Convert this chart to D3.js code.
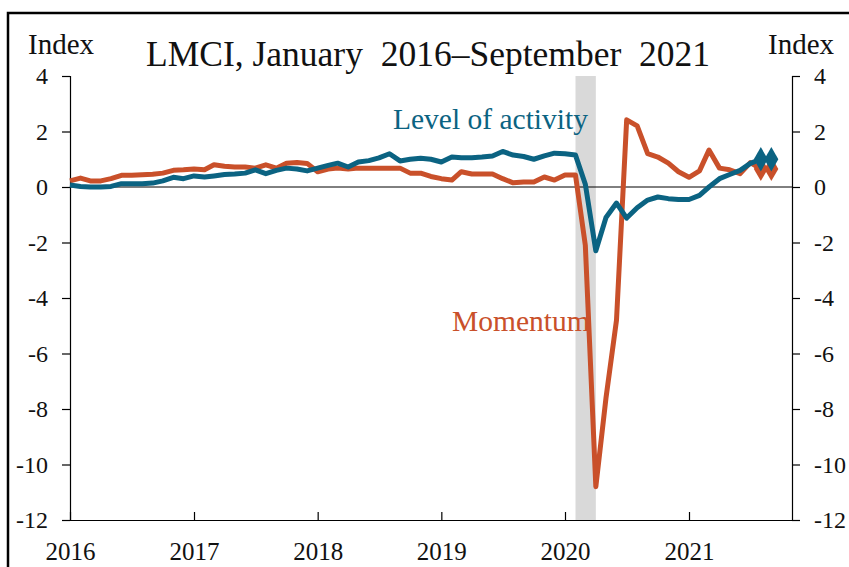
<!DOCTYPE html>
<html>
<head>
<meta charset="utf-8">
<script src="https://cdn.jsdelivr.net/npm/d3@7"></script>
<style>
body { margin: 0; background: #fff; }
svg text { font-family: "Liberation Serif", "Times New Roman", serif; }
</style>
</head>
<body>
<script>
// months Jan 2016 .. Sep 2021
var months = d3.timeMonth.range(new Date(2016, 0, 1), new Date(2021, 9, 1));
var levelValues = [
  0.07, 0.02, 0.0, 0.0, 0.02, 0.12, 0.12, 0.12, 0.14, 0.22, 0.35, 0.3,
  0.4, 0.36, 0.4, 0.45, 0.47, 0.5, 0.62, 0.48, 0.6, 0.68, 0.65, 0.58,
  0.68, 0.78, 0.86, 0.72, 0.9, 0.95, 1.05, 1.2, 0.94, 1.0, 1.04, 1.0,
  0.9, 1.08, 1.05, 1.05, 1.08, 1.12, 1.28, 1.15, 1.1, 1.0, 1.12, 1.22,
  1.2, 1.15, 0.1, -2.3, -1.1, -0.58, -1.12, -0.75, -0.47, -0.36, -0.42, -0.45,
  -0.45, -0.3, 0.0, 0.3, 0.45, 0.6, 0.85, 1.0, 1.0
];
var momentumValues = [
  0.22, 0.32, 0.22, 0.22, 0.3, 0.42, 0.42, 0.44, 0.46, 0.5, 0.6, 0.62,
  0.65, 0.62, 0.8, 0.75, 0.72, 0.72, 0.68, 0.8, 0.68, 0.86, 0.88, 0.85,
  0.55, 0.65, 0.68, 0.65, 0.68, 0.68, 0.68, 0.68, 0.68, 0.5, 0.5, 0.38,
  0.3, 0.25, 0.55, 0.47, 0.47, 0.47, 0.3, 0.15, 0.18, 0.18, 0.36, 0.25,
  0.43, 0.43, -2.1, -10.8, -7.6, -4.8, 2.42, 2.2, 1.2, 1.08, 0.86, 0.55,
  0.35, 0.58, 1.33, 0.68, 0.62, 0.48, 0.88, 0.65, 0.65
];
var yTicks = [4, 2, 0, -2, -4, -6, -8, -10, -12];
var yearTicks = [2016, 2017, 2018, 2019, 2020, 2021];
var recession = [new Date(2020, 1, 1), new Date(2020, 3, 1)];
var markerCount = 2; // latest months shown as diamonds

var blue = "#0b6382", red = "#c9502a";
var serif = '"Liberation Serif", "Times New Roman", serif';

var svg = d3.select("body").append("svg")
  .attr("width", 849).attr("height", 567);

var x = d3.scaleTime()
  .domain([new Date(2016, 0, 1), new Date(2021, 10, 1)])
  .range([70, 792]);
var y = d3.scaleLinear().domain([-12, 4]).range([520, 76]);

// frame
svg.append("rect")
  .attr("x", 8).attr("y", 13).attr("width", 900).attr("height", 700)
  .attr("fill", "none").attr("stroke", "#000").attr("stroke-width", 2.5);

// recession shading
svg.append("rect")
  .attr("x", x(recession[0])).attr("y", y(4))
  .attr("width", x(recession[1]) - x(recession[0]))
  .attr("height", y(-12) - y(4))
  .attr("fill", "#d9d9d9");

// zero line
svg.append("line")
  .attr("x1", x.range()[0]).attr("x2", x.range()[1])
  .attr("y1", y(0)).attr("y2", y(0))
  .attr("stroke", "#000").attr("stroke-width", 1);

function styleAxis(g) {
  g.attr("font-family", null);
  g.selectAll("path, line").attr("stroke", "#000").attr("stroke-width", 1.2);
  g.selectAll("text").attr("font-size", 24).attr("fill", "#111")
    .style("font-family", serif);
}

var yFmt = function (d) { return String(d); };
svg.append("g").attr("transform", "translate(70,0)")
  .call(d3.axisLeft(y).tickValues(yTicks).tickFormat(yFmt).tickSizeOuter(0).tickSize(8).tickPadding(14))
  .call(styleAxis);
svg.append("g").attr("transform", "translate(792,0)")
  .call(d3.axisRight(y).tickValues(yTicks).tickFormat(yFmt).tickSizeOuter(0).tickSize(8).tickPadding(14))
  .call(styleAxis);

var xAxis = svg.append("g").attr("transform", "translate(0,520)")
  .call(d3.axisBottom(x)
    .tickValues(yearTicks.map(function (yr) { return new Date(yr, 0, 1); }))
    .tickFormat(d3.timeFormat("%Y")).tickSizeOuter(0).tickSize(-8))
  .call(styleAxis);
xAxis.selectAll("text").attr("y", 22).attr("dy", "0.71em").attr("font-size", 25);
xAxis.select(".domain").attr("d", "M62,0.5H800");

// lines
var line = d3.line()
  .x(function (d) { return x(d[0]); })
  .y(function (d) { return y(d[1]); });

function series(vals) {
  return vals.map(function (v, i) { return [months[i], v]; });
}

[[momentumValues, red], [levelValues, blue]].forEach(function (s) {
  var pts = series(s[0]);
  svg.append("path").datum(pts)
    .attr("d", line)
    .attr("fill", "none")
    .attr("stroke", s[1])
    .attr("stroke-width", 5)
    .attr("stroke-linejoin", "round");
  svg.selectAll(null).data(pts.slice(pts.length - markerCount)).enter()
    .append("path")
    .attr("d", d3.symbol().type(d3.symbolDiamond).size(170))
    .attr("transform", function (d) { return "translate(" + x(d[0]) + "," + y(d[1]) + ")"; })
    .attr("fill", s[1]);
});

// text
svg.append("text").attr("x", 146).attr("y", 66)
  .attr("font-size", 35.5).attr("fill", "#111")
  .attr("xml:space", "preserve")
  .text("LMCI, January  2016\u2013September  2021");
svg.append("text").attr("x", 28).attr("y", 54)
  .attr("font-size", 29).attr("fill", "#111").text("Index");
svg.append("text").attr("x", 768).attr("y", 54)
  .attr("font-size", 29).attr("fill", "#111").text("Index");
svg.append("text").attr("x", 393).attr("y", 129)
  .attr("font-size", 29.5).attr("fill", blue).text("Level of activity");
svg.append("text").attr("x", 452).attr("y", 331)
  .attr("font-size", 29.5).attr("fill", red).text("Momentum");
</script>
</body>
</html>
